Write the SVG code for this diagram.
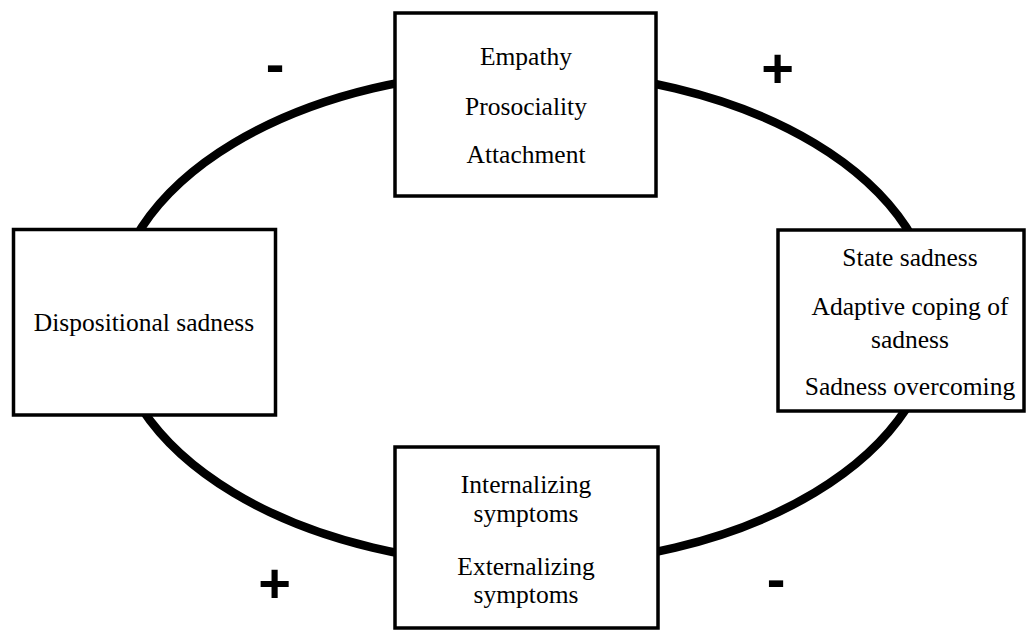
<svg xmlns="http://www.w3.org/2000/svg" width="1027" height="630" viewBox="0 0 1027 630">
<style>
.box{fill:#fff;stroke:#000;stroke-width:3.5}
.t{font-family:"Liberation Serif","Times New Roman",serif;font-size:25.5px;fill:#000;text-anchor:middle}
.s{font-family:"Liberation Sans",Arial,sans-serif;font-weight:bold;font-size:56px;fill:#000;text-anchor:middle}
</style>
<rect width="1027" height="630" fill="#fff"/>
<g id="connectors">
<ellipse cx="524" cy="318" rx="411" ry="247" fill="none" stroke="#000" stroke-width="8.5"/>
</g>
<g id="node-top">
<rect class="box" x="395" y="13" width="261" height="183"/>
<text class="t" x="526" y="65">Empathy</text>
<text class="t" x="526" y="115">Prosociality</text>
<text class="t" x="526" y="163">Attachment</text>
</g>
<g id="node-left">
<rect class="box" x="13.5" y="229.5" width="262" height="185.5"/>
<text class="t" x="144" y="331">Dispositional sadness</text>
</g>
<g id="node-right">
<rect class="box" x="778" y="230" width="246" height="181"/>
<text class="t" x="910" y="266">State sadness</text>
<text class="t" x="910" y="315">Adaptive coping of</text>
<text class="t" x="910" y="348">sadness</text>
<text class="t" x="910" y="395">Sadness overcoming</text>
</g>
<g id="node-bottom">
<rect class="box" x="395" y="447" width="263" height="181"/>
<text class="t" x="526" y="493">Internalizing</text>
<text class="t" x="526" y="522">symptoms</text>
<text class="t" x="526" y="575">Externalizing</text>
<text class="t" x="526" y="603">symptoms</text>
</g>
<g id="signs">
<text class="s" x="275" y="83">-</text>
<text class="s" x="777.5" y="86.5">+</text>
<text class="s" x="274.5" y="602">+</text>
<text class="s" x="776" y="598">-</text>
</g>
</svg>
